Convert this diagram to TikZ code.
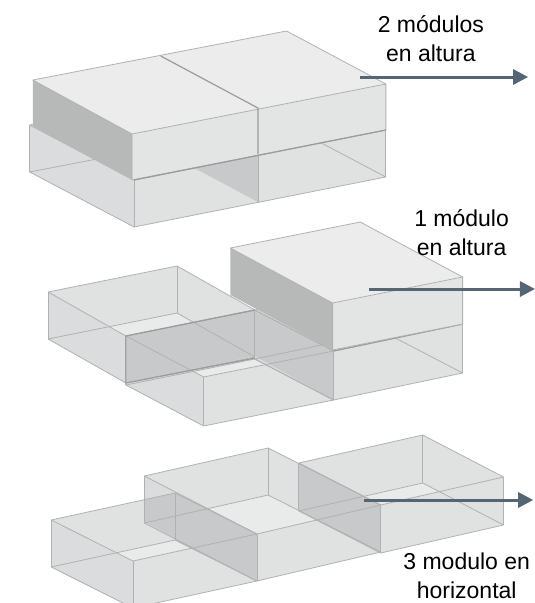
\documentclass[tikz,border=0pt]{standalone}
\usepackage{fontspec}
\setmainfont{Liberation Sans}
\usetikzlibrary{calc,arrows.meta}
\definecolor{wallc}{HTML}{E0E1E1}
\definecolor{sidec}{HTML}{DBDCDD}
\definecolor{floorc}{HTML}{E9EAEA}
\definecolor{panelc}{HTML}{C8C9CA}
\definecolor{edgec}{HTML}{B0B2B2}
\definecolor{topc}{HTML}{ECECEC}
\definecolor{frontc}{HTML}{E3E4E4}
\definecolor{darkc}{HTML}{B7B9B9}
\definecolor{seamc}{HTML}{9A9C9C}
\definecolor{arrowc}{HTML}{566573}
\tikzset{
  edge/.style={draw=edgec,line width=0.8pt,line join=round},
  seam/.style={draw=seamc,line width=1.2pt,line join=round},
  pointer/.style={draw=arrowc,line width=3pt,-{Triangle[length=15pt,width=15pt]}},
  label/.style={font=\fontsize{23}{29}\selectfont,align=center,inner sep=0pt,text=black}
}
% L B R F height
\newcommand\gfill[5]{%
  \fill[wallc] (#1) -- (#2) -- (#3) -- ($(#3)+(0,#5)$) -- ($(#4)+(0,#5)$) -- ($(#1)+(0,#5)$) -- cycle;
  \fill[sidec] (#1) -- (#4) -- ($(#4)+(0,#5)$) -- ($(#1)+(0,#5)$) -- cycle;}
\newcommand\gbright[5]{%
  \begin{scope}
    \clip (#1) -- (#2) -- (#3) -- (#4) -- cycle;
    \fill[floorc] ($(#1)+(0,#5)$) -- ($(#2)+(0,#5)$) -- ($(#3)+(0,#5)$) -- ($(#4)+(0,#5)$) -- cycle;
  \end{scope}}
\newcommand\gedges[5]{%
  \draw[edge] (#1) -- (#2) -- (#3) -- (#4) -- cycle;
  \draw[edge] ($(#1)+(0,#5)$) -- ($(#2)+(0,#5)$) -- ($(#3)+(0,#5)$) -- ($(#4)+(0,#5)$) -- cycle;
  \draw[edge] (#1) -- ($(#1)+(0,#5)$) (#2) -- ($(#2)+(0,#5)$) (#3) -- ($(#3)+(0,#5)$) (#4) -- ($(#4)+(0,#5)$);}
\newcommand\solidblock[5]{%
  \fill[frontc] (#4) -- (#3) -- ($(#3)+(0,#5)$) -- ($(#4)+(0,#5)$) -- cycle;
  \fill[darkc] (#1) -- (#4) -- ($(#4)+(0,#5)$) -- ($(#1)+(0,#5)$) -- cycle;
  \fill[topc] (#1) -- (#2) -- (#3) -- (#4) -- cycle;
  \draw[edge] (#1) -- (#2) -- (#3) -- (#4) -- cycle;
  \draw[edge] (#3) -- ($(#3)+(0,#5)$) -- ($(#4)+(0,#5)$) -- (#4);}
\newcommand\middleboxes[1]{%
  #1{47,292}{173,266}{249,310}{123,336}{47}%
  #1{123,336}{249,310}{326,351}{199,377}{49}%
  #1{249,310}{375,283}{452,324}{326,351}{49}}
\newcommand\bottomboxes[1]{%
  #1{50,520}{171,493}{251,534}{130,561}{47}%
  #1{141,476}{262,448}{372,505}{251,534}{47}%
  #1{292,463}{413,435}{492,477}{372,505}{48}}
\begin{document}
\begin{tikzpicture}[x=1.0235pt,y=-1pt]
\useasboundingbox (0,0) rectangle (522.72,603);
\begin{scope}
\clip (0,0) rectangle (522.72,603);
% ---- top stack
\gfill{29,125}{277,76}{377,130}{131,180}{47}
\gbright{29,125}{277,76}{377,130}{131,180}{47}
\fill[panelc] (157,102) -- (252,154) -- (252,202) -- (157,150) -- cycle;
\gedges{29,125}{277,76}{377,130}{131,180}{47}
\draw[edge] (252,154) -- (252,202);
\solidblock{32,80}{280,31}{377,84}{129,134}{46}
\draw[seam] (157,56) -- (252,108) -- (252,154);
\draw[seam] (131,180) -- (377,130);
% ---- middle
\middleboxes{\gfill}
\middleboxes{\gbright}
\fill[panelc] (123,336) -- (249,310) -- (249,356) -- (123,383) -- cycle;
\fill[panelc] (249,310) -- (326,351) -- (326,400) -- (249,356) -- cycle;
\middleboxes{\gedges}
\draw[seam] (123,336) -- (249,310) (123,336) -- (123,383) -- (249,358) (326,351) -- (452,324);
\solidblock{225,248}{352,222}{452,277}{325,303}{47}
% ---- bottom
\bottomboxes{\gfill}
\bottomboxes{\gbright}
\fill[panelc] (171,493) -- (251,534) -- (251,581) -- (171,540) -- cycle;
\fill[panelc] (141,500) -- (171,493) -- (171,538) -- (141,522) -- cycle;
\fill[panelc] (292,463) -- (372,505) -- (372,553) -- (292,510) -- cycle;
\bottomboxes{\gedges}
\end{scope}
% ---- labels and arrows
\node[label] (lab2) at (421,39) {2 módulos\\en altura};
\node[label] (lab1) at (451,233) {1 módulo\\en altura};
\node[label] (lab3) at (456,576) {3 modulo en\\horizontal};
\coordinate (a1s) at (352,77); \coordinate (a1e) at (516,77);
\coordinate (a2s) at (361,289); \coordinate (a2e) at (522.7,289);
\coordinate (a3s) at (356,500); \coordinate (a3e) at (521,500);
\draw[pointer] (a1s) -- (a1e);
\draw[pointer] (a2s) -- (a2e);
\draw[pointer] (a3s) -- (a3e);
\end{tikzpicture}
\end{document}
